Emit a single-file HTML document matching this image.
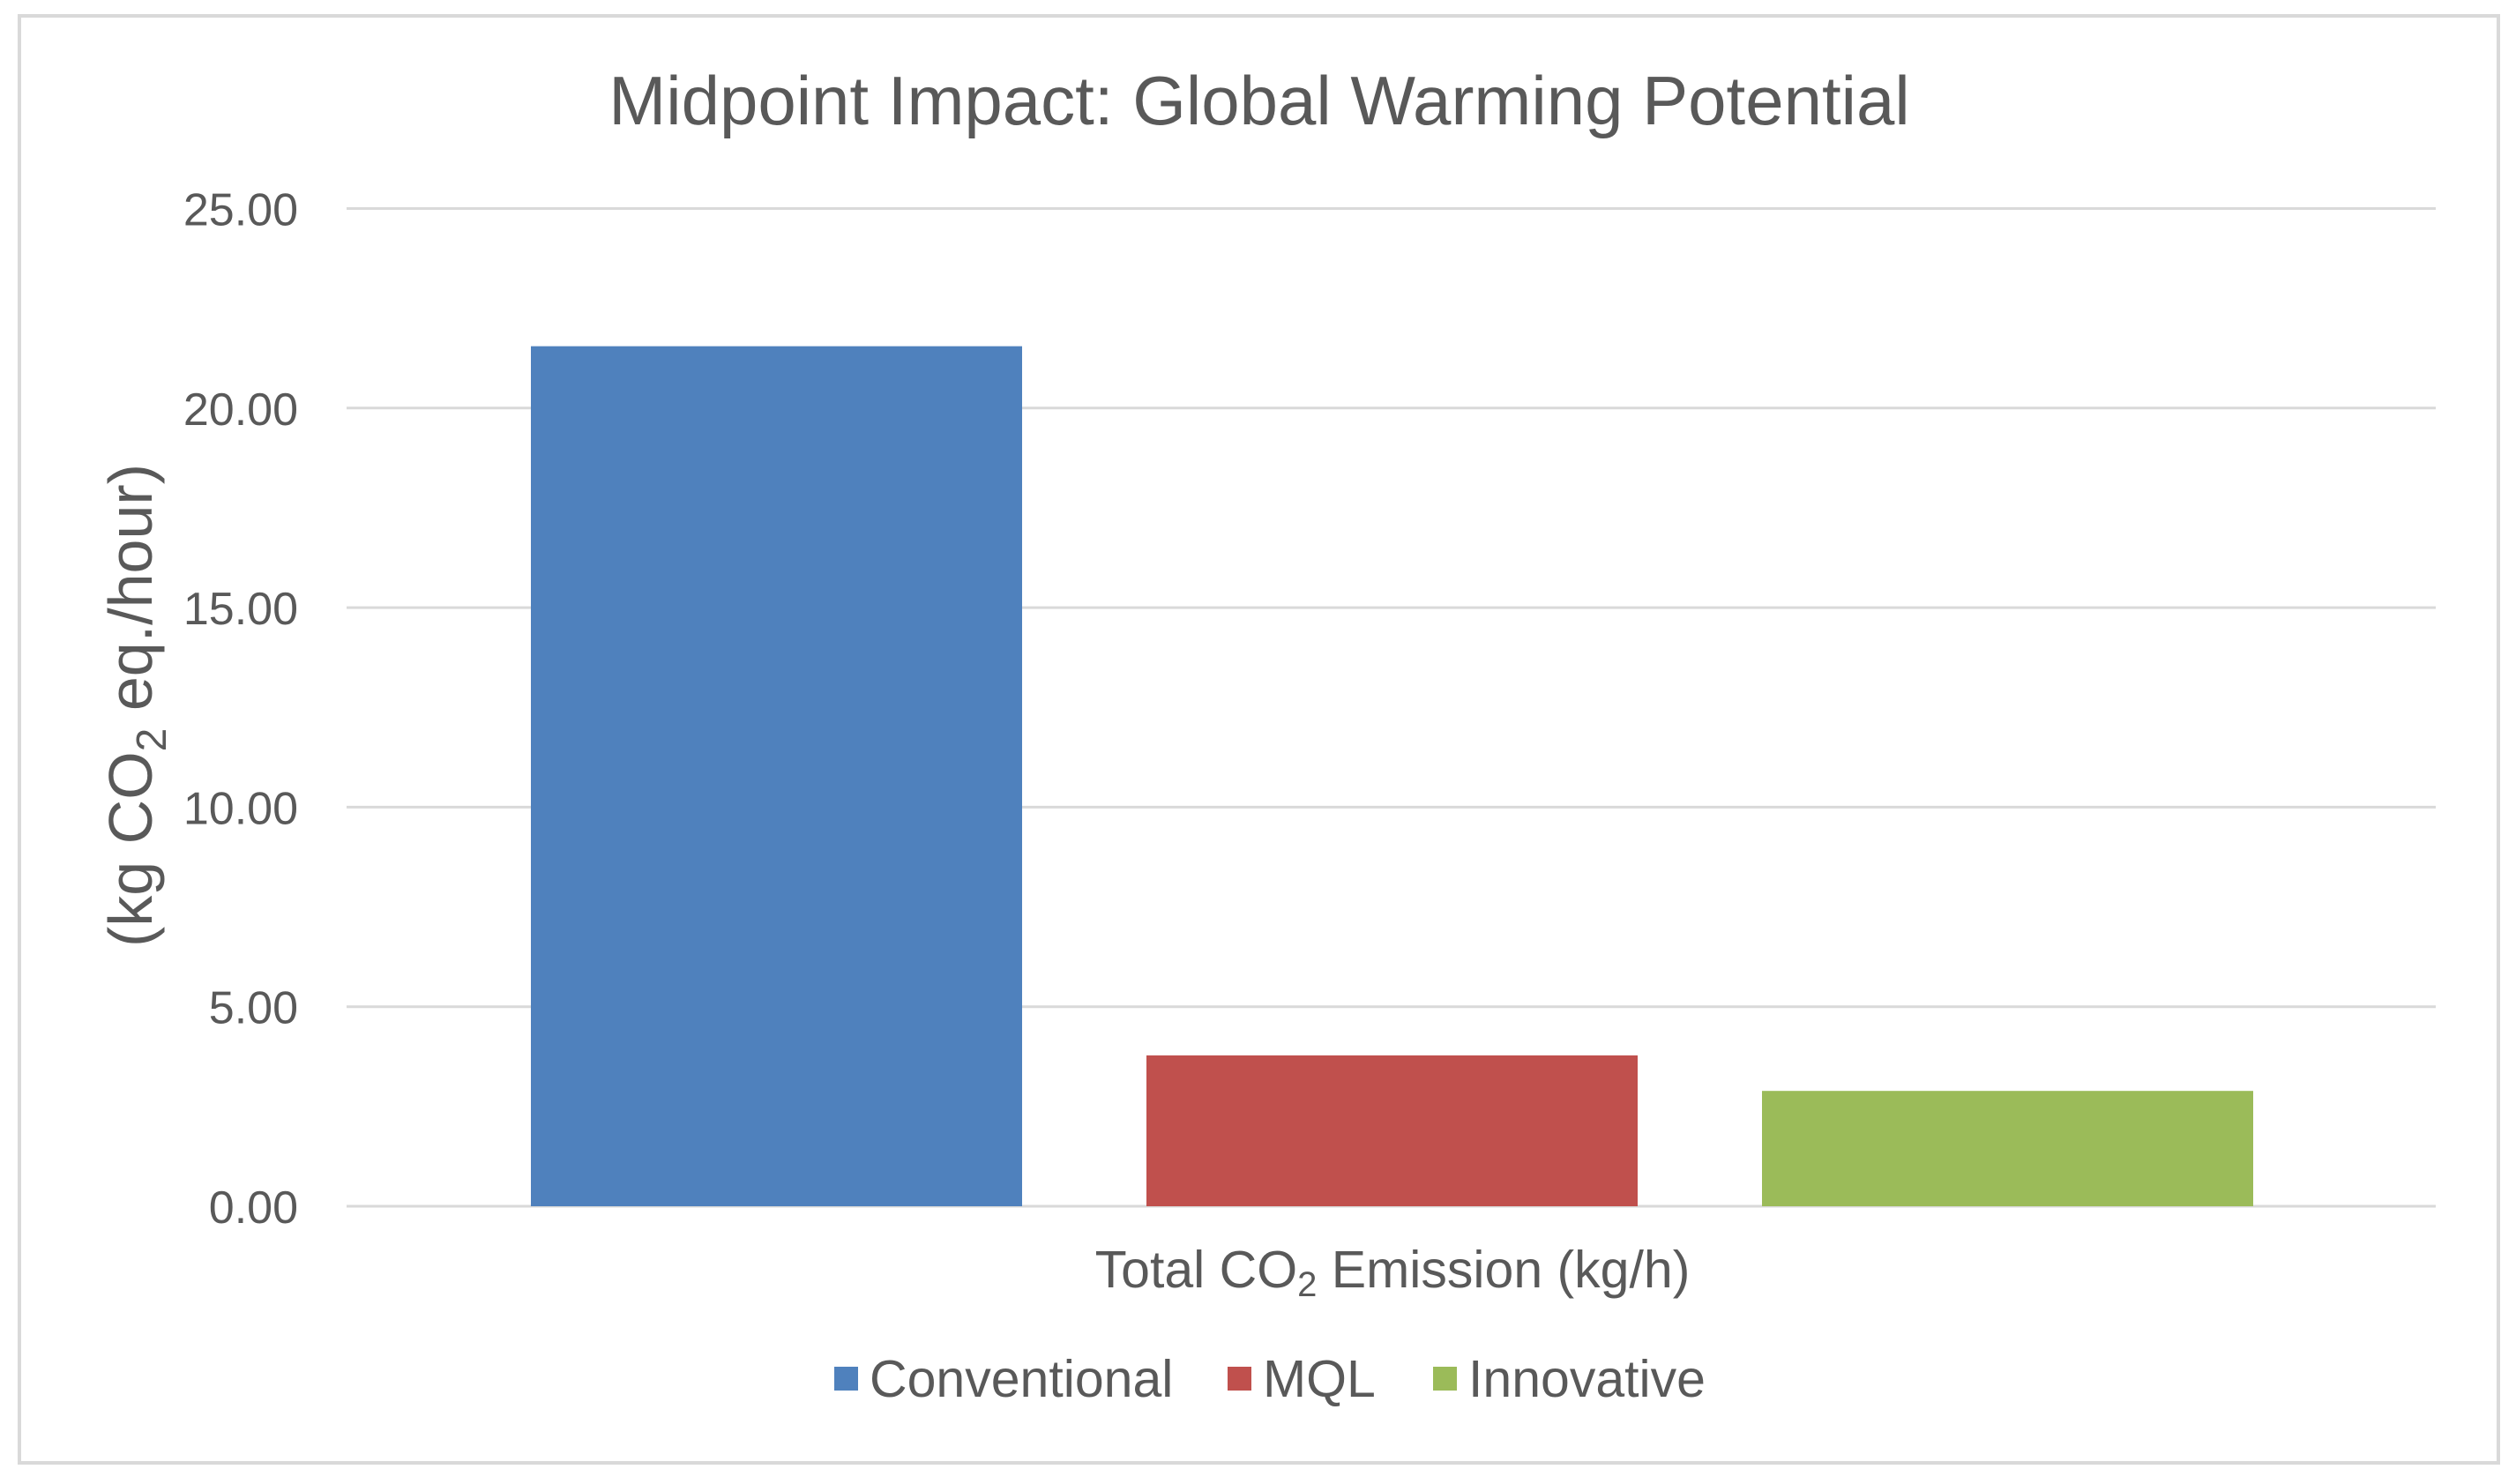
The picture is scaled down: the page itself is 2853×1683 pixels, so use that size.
<!DOCTYPE html>
<html><head><meta charset="utf-8"><style>
html,body{margin:0;padding:0;background:#fff;}
svg{display:block;font-family:"Liberation Sans",Arial,sans-serif;}
</style></head><body>
<svg id="chart" width="2853" height="1683" viewBox="0 0 2853 1683">
<rect x="22" y="18" width="2811" height="1641" fill="#fff" stroke="#d9d9d9" stroke-width="4"/>
<text x="1428" y="141" font-size="78" fill="#595959" text-anchor="middle">Midpoint Impact: Global Warming Potential</text>
<g id="grid"></g>
<g id="bars"></g>
<g id="ticks"></g>
<text transform="translate(172,800) rotate(-90)" font-size="70" fill="#595959" text-anchor="middle">(kg CO<tspan font-size="48" dy="16">2</tspan><tspan dy="-16"> eq./hour)</tspan></text>
<text x="1579" y="1460" font-size="59" fill="#595959" text-anchor="middle">Total CO<tspan font-size="40" dy="10">2</tspan><tspan dy="-10"> Emission (kg/h)</tspan></text>
<g id="legend"></g>
</svg>
<script>
const categories = ["Conventional", "MQL", "Innovative"];
const values = [21.55, 3.78, 2.89];
const colors = ["#4f81bd", "#c0504d", "#9bbb59"];
const tickValues = [0, 5, 10, 15, 20, 25];
const tickLabels = ["0.00", "5.00", "10.00", "15.00", "20.00", "25.00"];

const NS = "http://www.w3.org/2000/svg";
const plotL = 393, plotR = 2762, y0 = 1368, yTop = 236.5, yMax = 25;
const y = v => y0 - (v / yMax) * (y0 - yTop);
const barStep = 698, barW = 557, barStart = 602;
const x = i => barStart + i * barStep;

function mk(tag, attrs, parent) {
  const el = document.createElementNS(NS, tag);
  for (const k in attrs) el.setAttribute(k, attrs[k]);
  parent.appendChild(el);
  return el;
}
const grid = document.getElementById("grid");
const ticks = document.getElementById("ticks");
tickValues.forEach((v, i) => {
  const ln = mk("line", {x1: plotL, x2: plotR, y1: y(v), y2: y(v), stroke: "#d9d9d9", "stroke-width": 3}, grid);
  
  
  const t = mk("text", {x: 338, y: y(v) + 19, "font-size": 52, fill: "#595959", "text-anchor": "end"}, ticks);
  t.textContent = tickLabels[i];
  
  
});
const bars = document.getElementById("bars");
values.forEach((v, i) => {
  const r = mk("rect", {x: x(i), y: y(v), width: barW, height: y0 - y(v), fill: colors[i]}, bars);
  
  
});
const legend = document.getElementById("legend");
const lx = [946, 1392, 1625];
categories.forEach((c, i) => {
  const s = mk("rect", {x: lx[i], y: 1550, width: 27, height: 27, fill: colors[i]}, legend);
  
  
  const t = mk("text", {x: lx[i] + 40, y: 1584, "font-size": 59, fill: "#595959"}, legend);
  t.textContent = c;
  
  
});
</script>
</body></html>
